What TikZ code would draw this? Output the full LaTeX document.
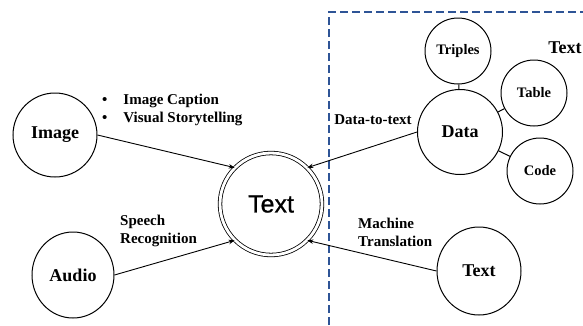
\documentclass[tikz,border=0pt]{standalone}
\usepackage{fontspec}
\setmainfont{Liberation Serif}
\newfontfamily\arialfont[FakeBold=0.8]{Liberation Sans}
\usetikzlibrary{arrows.meta,shapes.geometric}
\definecolor{dashblue}{RGB}{46,84,150}
\tikzset{
  bubble/.style={circle,draw,line width=1pt,inner sep=0pt,font=\bfseries\fontsize{18}{21}\selectfont},
  ovalbubble/.style={ellipse,draw,line width=1pt,inner sep=0pt,font=\bfseries\fontsize{18}{21}\selectfont},
  smallbubble/.style={circle,draw,line width=1pt,inner sep=0pt,minimum size=66pt,font=\bfseries\fontsize{14.5}{17}\selectfont},
  lbl/.style={font=\bfseries\fontsize{15}{18}\selectfont,inner sep=0pt,align=left},
  arr/.style={line width=0.9pt,-{Stealth[length=6pt,width=4.5pt]}},
  link/.style={line width=1pt}
}
\begin{document}
\begin{tikzpicture}[x=1pt,y=-1pt]
\useasboundingbox (0,0) rectangle (583,325);
% dashed region
\coordinate (dtop) at (329,12);
\coordinate (dright) at (583,12);
\coordinate (dbot) at (329,325);
\draw[dashblue,line width=1.1pt,dash pattern=on 8pt off 4pt] (dbot) -- (dtop) -- (dright);
% nodes
\node[circle,draw,line width=0.8pt,double,double distance=2.8pt,minimum size=102pt,inner sep=0pt,font=\arialfont\fontsize{25}{30}\selectfont] (ctr) at (271,204) {Text};
\node[bubble,minimum size=84pt] (img) at (55,135) {Image};
\node[ovalbubble,minimum width=82pt,minimum height=86pt] (aud) at (73,275) {Audio};
\node[bubble,minimum size=85pt] (data) at (460,132) {Data};
\node[ovalbubble,minimum width=84pt,minimum height=88pt] (txt) at (479,271) {Text};
\node[smallbubble] (tri) at (458,51) {Triples};
\node[smallbubble] (tab) at (534,93) {Table};
\node[smallbubble] (code) at (540,171) {Code};
\node[font=\bfseries\fontsize{18}{21}\selectfont,inner sep=0pt] (textlbl) at (565,48) {Text};
% labels
\node[lbl,anchor=west] (bullets) at (102,109.5) {\begin{tabular}{@{}l@{\hspace{16pt}}l@{}}\textbullet & Image Caption\\ \textbullet & Visual Storytelling\end{tabular}};
\node[lbl,anchor=west] (speech) at (120,231) {Speech\\Recognition};
\node[lbl,anchor=west] (mt) at (358,232.5) {Machine\\Translation};
\node[lbl] (d2t) at (373,120) {Data-to-text};
% connectors
\draw[arr] (img.east) -- (ctr.135);
\draw[arr] (aud.east) -- (ctr.225);
\draw[arr] (data.west) -- (ctr.45);
\draw[arr] (txt.west) -- (ctr.-45);
\draw[link] (data) -- (tri);
\draw[link] (data) -- (tab);
\draw[link] (data) -- (code);
\end{tikzpicture}
\end{document}
